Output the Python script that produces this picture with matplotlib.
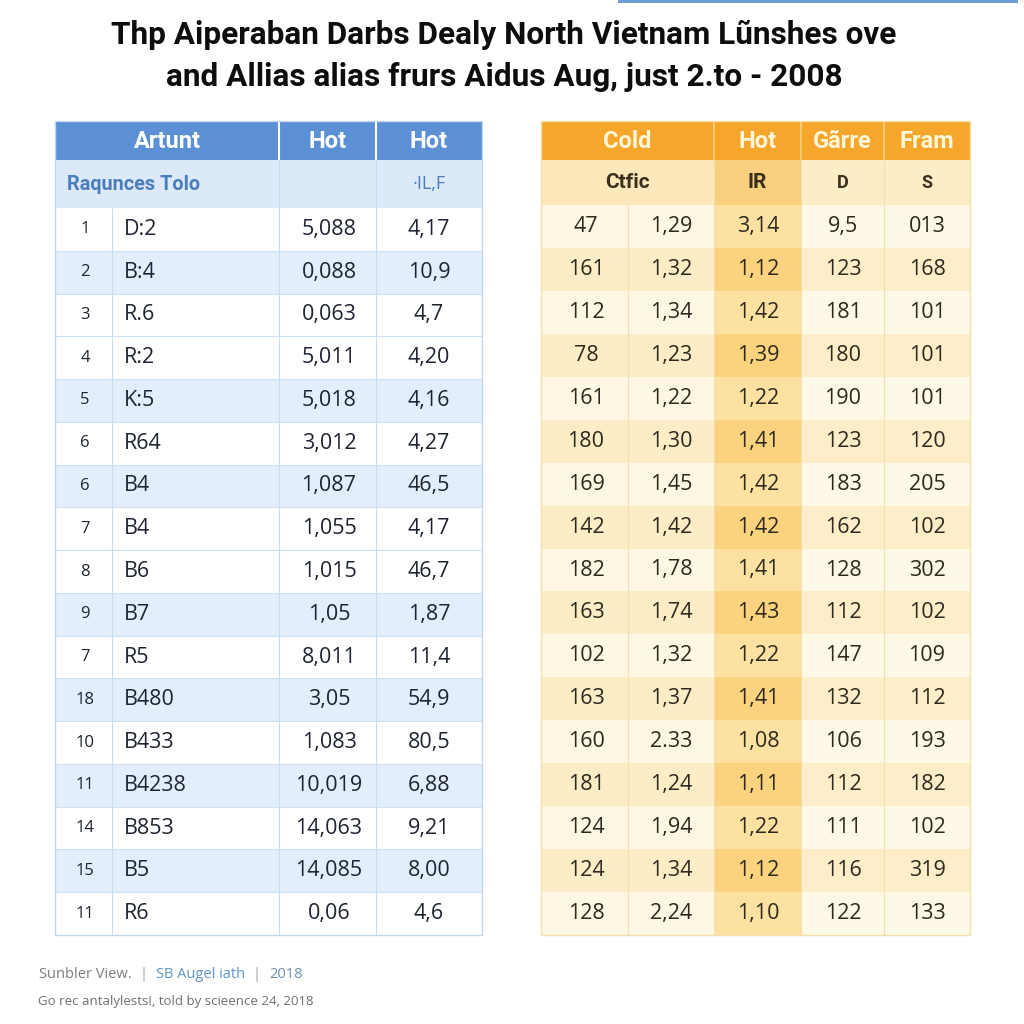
import matplotlib
matplotlib.use("Agg")
import matplotlib.pyplot as plt
import matplotlib.patches as patches
from matplotlib import font_manager

# ---- data -------------------------------------------------------------
title_lines = [
    "Thp Aiperaban Darbs Dealy North Vietnam Lũnshes ove",
    "and Allias alias frurs Aidus Aug, just 2.to - 2008",
]

left_headers = ["Artunt", "Hot", "Hot"]
left_sub = ["Raqunces Tolo", "", "·IL,F"]
left_idx = ["1", "2", "3", "4", "5", "6", "6", "7", "8", "9", "7", "18",
            "10", "11", "14", "15", "11"]
left_names = ["D:2", "B:4", "R.6", "R:2", "K:5", "R64", "B4", "B4", "B6",
              "B7", "R5", "B480", "B433", "B4238", "B853", "B5", "R6"]
left_hot_a = ["5,088", "0,088", "0,063", "5,011", "5,018", "3,012", "1,087",
              "1,055", "1,015", "1,05", "8,011", "3,05", "1,083", "10,019",
              "14,063", "14,085", "0,06"]
left_hot_b = ["4,17", "10,9", "4,7", "4,20", "4,16", "4,27", "46,5", "4,17",
              "46,7", "1,87", "11,4", "54,9", "80,5", "6,88", "9,21", "8,00",
              "4,6"]

right_headers = ["Cold", "Hot", "Gãrre", "Fram"]
right_sub = ["Ctfic", "IR", "D", "S"]
right_c1 = ["47", "161", "112", "78", "161", "180", "169", "142", "182",
            "163", "102", "163", "160", "181", "124", "124", "128"]
right_c2 = ["1,29", "1,32", "1,34", "1,23", "1,22", "1,30", "1,45", "1,42",
            "1,78", "1,74", "1,32", "1,37", "2.33", "1,24", "1,94", "1,34",
            "2,24"]
right_c3 = ["3,14", "1,12", "1,42", "1,39", "1,22", "1,41", "1,42", "1,42",
            "1,41", "1,43", "1,22", "1,41", "1,08", "1,11", "1,22", "1,12",
            "1,10"]
right_c4 = ["9,5", "123", "181", "180", "190", "123", "183", "162", "128",
            "112", "147", "132", "106", "112", "111", "116", "122"]
right_c5 = ["013", "168", "101", "101", "101", "120", "205", "102", "302",
            "102", "109", "112", "193", "182", "102", "319", "133"]

footer_1 = ["Sunbler View.", "|", "SB Augel iath", "|", "2018"]
footer_2 = "Go rec antalylests!, told by scieence 24, 2018"

# ---- fonts ------------------------------------------------------------
names = {f.name for f in font_manager.fontManager.ttflist}
narrow = "Liberation Sans Narrow" if "Liberation Sans Narrow" in names else "Roboto"
body = "Open Sans"
head = "Roboto"

# ---- figure -----------------------------------------------------------
fig = plt.figure(figsize=(10.24, 10.24), dpi=100)
ax = fig.add_axes([0, 0, 1, 1])
ax.set_xlim(0, 1024)
ax.set_ylim(1024, 0)
ax.axis("off")


def rect(x0, y0, x1, y1, fc, ec="none", lw=0, z=1):
    ax.add_patch(patches.Rectangle((x0, y0), x1 - x0, y1 - y0, facecolor=fc,
                                   edgecolor=ec, lw=lw, zorder=z))


def vline(x, y0, y1, c, lw=0.8):
    ax.plot([x, x], [y0, y1], color=c, lw=lw, zorder=3, solid_capstyle="butt")


def hline(y, x0, x1, c, lw=0.8):
    ax.plot([x0, x1], [y, y], color=c, lw=lw, zorder=3, solid_capstyle="butt")


# top accent bar
rect(618, 0, 1018, 3, "#6a9fd6")

# title
tsize = 25 if narrow != "Roboto" else 22.7
for k, line in enumerate(title_lines):
    ax.text(504, 35 + k * 42, line, ha="center", va="center", fontsize=tsize,
            fontweight="bold", family=[narrow, "DejaVu Sans"], color="#0d0d0d")

n = len(left_idx)

# ---- left table -------------------------------------------------------
LX = [55, 112, 279, 376, 482]
top, hdr, sub = 121, 160, 208
bottom = 935
rh = (bottom - sub) / n
blue_rows = {1, 4, 6, 9, 11, 13, 15}

rect(LX[0], top, LX[-1], hdr, "#5b90d5")
rect(LX[0], hdr, LX[-1], sub, "#dce9f9")
for i in range(n):
    y0 = sub + i * rh
    rect(LX[0], y0, LX[-1], y0 + rh, "#e2eefb" if i in blue_rows else "#ffffff")
    if i > 0:
        hline(y0, LX[0], LX[-1], "#cfe0f3")
for x in LX[2:4]:
    vline(x, top, hdr, "#ffffff", 1.5)
    vline(x, hdr, bottom, "#c7dbf1")
vline(LX[1], sub, bottom, "#c7dbf1")
rect(LX[0], top, LX[-1], bottom, "none", "#c3d8ef", 1.0, z=4)

hx = [(LX[0] + LX[2]) / 2, (LX[2] + LX[3]) / 2, (LX[3] + LX[4]) / 2]
for x, t in zip(hx, left_headers):
    ax.text(x, (top + hdr) / 2 + 1, t, ha="center", va="center", fontsize=17,
            fontweight="bold", family=head, color="#ffffff", zorder=5)
ax.text(67, (hdr + sub) / 2, left_sub[0], ha="left", va="center", fontsize=14.3,
        fontweight="bold", family=head, color="#4b7dbd", zorder=5)
ax.text(hx[2], (hdr + sub) / 2, left_sub[2], ha="center", va="center",
        fontsize=13, family=body, color="#4b7dbd", zorder=5)

for i in range(n):
    yc = sub + (i + 0.5) * rh
    ax.text(85, yc, left_idx[i], ha="center", va="center", fontsize=12,
            family=body, color="#1e2430", zorder=5)
    ax.text(124, yc, left_names[i], ha="left", va="center", fontsize=15.5,
            family=body, color="#1e2430", zorder=5)
    ax.text(329, yc, left_hot_a[i], ha="center", va="center", fontsize=15.5,
            family=body, color="#1e2430", zorder=5)
    ax.text(429, yc, left_hot_b[i], ha="center", va="center", fontsize=15.5,
            family=body, color="#1e2430", zorder=5)

# ---- right table ------------------------------------------------------
RX = [541, 628, 714, 801, 884, 970]
rsub = 205
rrh = (bottom - rsub) / n

rect(RX[0], top, RX[-1], hdr, "#f6a62a")
rect(RX[0], hdr, RX[2], rsub, "#fce8ba")
rect(RX[2], hdr, RX[3], rsub, "#fad07f")
rect(RX[3], hdr, RX[-1], rsub, "#fdedc7")
for i in range(n):
    y0 = rsub + i * rrh
    dark = i % 2 == 1
    rect(RX[0], y0, RX[2], y0 + rrh, "#fdedc6" if dark else "#fef7e3")
    rect(RX[2], y0, RX[3], y0 + rrh, "#fbd27d" if dark else "#fde1a0")
    rect(RX[3], y0, RX[-1], y0 + rrh, "#fdeec9" if dark else "#fef8e6")
for x in RX[2:5]:
    vline(x, top, hdr, "#fbc973", 1.5)
for x in RX[1:5]:
    vline(x, rsub if x == RX[1] else hdr, bottom, "#f4e0b0")
rect(RX[0], top, RX[-1], bottom, "none", "#f3dfa9", 1.0, z=4)

rhx = [(RX[0] + RX[2]) / 2] + [(RX[j] + RX[j + 1]) / 2 for j in range(2, 5)]
for x, t in zip(rhx, right_headers):
    ax.text(x, (top + hdr) / 2 + 1, t, ha="center", va="center", fontsize=17,
            fontweight="bold", family=head, color="#fff5d8", zorder=5)
sub_sizes = [15, 15, 13, 13]
for x, t, s in zip(rhx, right_sub, sub_sizes):
    ax.text(x, (hdr + rsub) / 2, t, ha="center", va="center", fontsize=s,
            fontweight="bold", family=head, color="#3a2f1d", zorder=5)

cols = [right_c1, right_c2, right_c3, right_c4, right_c5]
cx = [586, 671, 758, 843, 927]
for i in range(n):
    yc = rsub + (i + 0.5) * rrh
    for x, col in zip(cx, cols):
        ax.text(x, yc, col[i], ha="center", va="center", fontsize=15.5,
                family=body, color="#2e281e", zorder=5)

# ---- footer -----------------------------------------------------------
fcolors = ["#7a7d82", "#9aa0a8", "#5e95c8", "#9aa0a8", "#6f8eb0"]
x = 39
r = fig.canvas.get_renderer()
for t, c in zip(footer_1, fcolors):
    tx = ax.text(x, 974, t, ha="left", va="center", fontsize=10.5,
                 family=body, color=c)
    bb = tx.get_window_extent(renderer=r)
    x += bb.width + 8
ax.text(38, 1002, footer_2, ha="left", va="center", fontsize=9.5,
        family=body, color="#6c6f74")

fig.savefig("out.png", dpi=100, facecolor="white")
